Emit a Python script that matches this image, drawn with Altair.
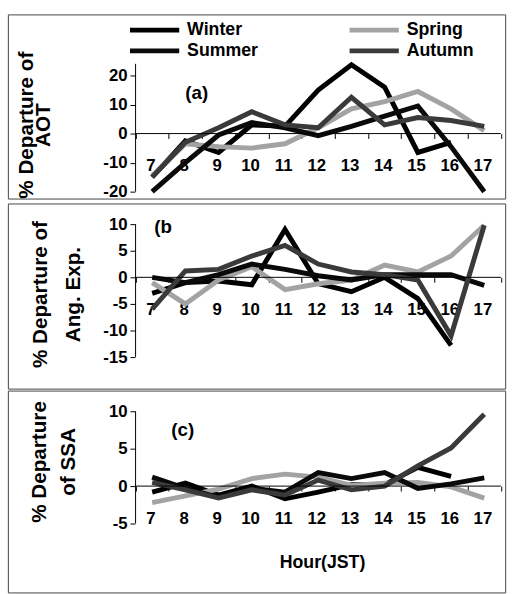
import altair as alt
import pandas as pd

FONT = "Liberation Sans"

hours = list(range(7, 18))
seasons = ["Winter", "Spring", "Summer", "Autumn"]
season_colors = ["#000000", "#a3a3a3", "#0a0a0a", "#3a3a3a"]
legend_order = ["Winter", "Summer", "Spring", "Autumn"]

# (a) % Departure of AOT  (Winter has no value at 17 h)
aot_winter = [-15, -2.5, -6.5, 3, 2.5, 15, 23.7, 16, -6.5, -3]
aot_spring = [-14.5, -3.5, -4.5, -5, -3.5, 2, 8.5, 11, 14.5, 8.5, 1]
aot_summer = [-20, -10, -0.5, 3.8, 2, -0.7, 2.5, 6, 9.5, -4.5, -20]
aot_autumn = [-15, -3, 2, 7.5, 3, 2, 12.5, 3, 5.5, 4.5, 2.5]

# (b) % Departure of Ang. Exp.
ang_winter = [-3, -1, -0.7, -1.4, 9, -1.2, -2.7, 0, -4, -12.8]
ang_spring = [-1, -5, -0.5, 2, -2.3, -1.2, -0.5, 2.3, 1, 4, 9.8]
ang_summer = [0, -1, 0.5, 2.5, 1.5, 0.3, -0.5, 0.5, 0.5, 0.5, -1.5]
ang_autumn = [-6, 1.2, 1.5, 4, 6, 2.5, 1, 0.5, -0.5, -11, 9.8]

# (c) % Departure of SSA
ssa_winter = [-0.8, 0.4, -1.2, 0, -1.7, -0.8, 0.2, 0.2, 2.5, 1.3]
ssa_spring = [-2.2, -1.3, -0.4, 1, 1.6, 1.2, 0.1, 0.4, 0.5, -0.1, -1.6]
ssa_summer = [1.2, -0.3, -1.5, -0.3, -0.8, 1.8, 1, 1.8, -0.3, 0.3, 1.1]
ssa_autumn = [0.5, -0.5, -1.6, -0.5, -1.2, 0.8, -0.5, 0, 2.7, 5.1, 9.6]

x_tick_values = [6.5 + i for i in range(12)]
X_DOMAIN = [2.655, 17.63]
W = 505


def long_df(series):
    rows = []
    for name, vals in series.items():
        for h, v in zip(hours, vals):
            rows.append({"hour": h, "value": v, "season": name})
    return pd.DataFrame(rows)


def panel(df, height, ydomain, yticks, yaxis_top, zero_from_top, title_lines,
          title_x, title_y, title_lh, tag, tag_hour, tag_value,
          legend=None, xtitle=None, xtitle_x=0, xtitle_y=0):
    xscale = alt.Scale(domain=X_DOMAIN, nice=False, zero=False)
    yscale = alt.Scale(domain=ydomain, nice=False, zero=False)
    xaxis_kw = dict(
        values=x_tick_values, tickCount=30,
        labelExpr="datum.value < 17 ? toString(datum.value + 0.5) : ''",
        labelOffset=15, labelPadding=20, tickSize=5, domain=False, grid=False,
        offset=zero_from_top - height, labelFlush=False, labelOverlap=False,
        labelBound=False, labelFontSize=17,
    )
    if xtitle:
        xaxis_kw.update(title=xtitle, titleX=xtitle_x, titleY=xtitle_y,
                        titleFontSize=18, titleAlign="center", titleBaseline="middle")
    else:
        xaxis_kw.update(title=None)
    x = alt.X("hour:Q", scale=xscale, axis=alt.Axis(**xaxis_kw))
    y = alt.Y("value:Q", scale=yscale, axis=alt.Axis(
        values=yticks, tickCount=30, labelExpr="'' + datum.value", domain=False,
        grid=False, offset=-129, tickSize=5, labelPadding=3, labelFontSize=17,
        labelOverlap=False, labelBound=False, labelFlush=False,
        title=title_lines, titleX=title_x, titleY=title_y, titleAngle=270,
        titleAlign="center", titleBaseline="middle", titleLineHeight=title_lh,
        titleFontSize=21,
    ))
    color = alt.Color("season:N", scale=alt.Scale(domain=seasons, range=season_colors),
                      legend=legend)
    lines = alt.Chart(df).mark_line(strokeWidth=5).encode(
        x=x, y=y, color=color, detail="season:N")

    xs = alt.X("hour:Q", scale=xscale)
    ys = alt.Y("value:Q", scale=yscale)
    zero_df = pd.DataFrame({"hour": [6.5], "hour2": [17.5], "value": [0]})
    zero_rule = alt.Chart(zero_df).mark_rule(color="black", strokeWidth=1).encode(
        x=xs, x2="hour2:Q", y=ys)
    yax_df = pd.DataFrame({"hour": [6.5], "value": [yticks[0]], "value2": [yaxis_top]})
    y_rule = alt.Chart(yax_df).mark_rule(color="black", strokeWidth=1).encode(
        x=xs, y=ys, y2="value2:Q")
    tag_df = pd.DataFrame({"hour": [tag_hour], "value": [tag_value], "text": [tag]})
    tag_text = alt.Chart(tag_df).mark_text(
        font=FONT, fontSize=19, fontWeight="bold", color="black").encode(
        x=xs, y=ys, text="text:N")
    return alt.layer(lines, zero_rule, y_rule, tag_text).properties(width=W, height=height)


legend_a = alt.Legend(
    orient="none", legendX=120, legendY=7, columns=2, columnPadding=82,
    rowPadding=1, symbolType="M-5,0H5", symbolSize=100, symbolOffset=20,
    symbolStrokeWidth=5, symbolFillColor="transparent",
    labelFont=FONT, labelFontSize=18, labelFontWeight="bold", labelColor="black",
    labelOffset=24, title=None, padding=0, symbolOpacity=1, values=legend_order,
)

pa = panel(long_df({"Winter": aot_winter, "Spring": aot_spring,
                    "Summer": aot_summer, "Autumn": aot_autumn}),
           187, [-22.37, 41.02], [-20, -10, 0, 10, 20], 24, 121,
           ["% Departure of", "AOT"], -110, 112, 17, "(a)", 8.34, 13.9,
           legend=legend_a)
pb = panel(long_df({"Winter": ang_winter, "Spring": ang_spring,
                    "Summer": ang_summer, "Autumn": ang_autumn}),
           188, [-20.93, 13.89], [-15, -10, -5, 0, 5, 10], 10, 75,
           ["% Departure of", "Ang. Exp."], -96, 92, 34, "(b", 7.33, 9.4)
pc = panel(long_df({"Winter": ssa_winter, "Spring": ssa_spring,
                    "Summer": ssa_summer, "Autumn": ssa_autumn}),
           205, [-14.21, 12.76], [-5, 0, 5, 10], 10, 97,
           ["% Departure", "of  SSA"], -97, 72, 30, "(c)", 7.92, 7.5,
           xtitle="Hour(JST)", xtitle_x=319, xtitle_y=78)

chart = alt.vconcat(pa, pb, pc, spacing=0).resolve_scale(
    color="independent").resolve_legend(color="independent").properties(
    padding={"left": 7, "top": 9, "right": 0, "bottom": 0},
    background="white",
).configure(font=FONT).configure_axis(
    labelFont=FONT, labelFontWeight="bold", labelColor="black", tickColor="black",
    titleFont=FONT, titleFontWeight="bold", titleColor="black",
    labelOverlap=False,
).configure_view(stroke="#444444", strokeWidth=1)

chart.save("out.html", embed_options={"renderer": "svg", "actions": False})
